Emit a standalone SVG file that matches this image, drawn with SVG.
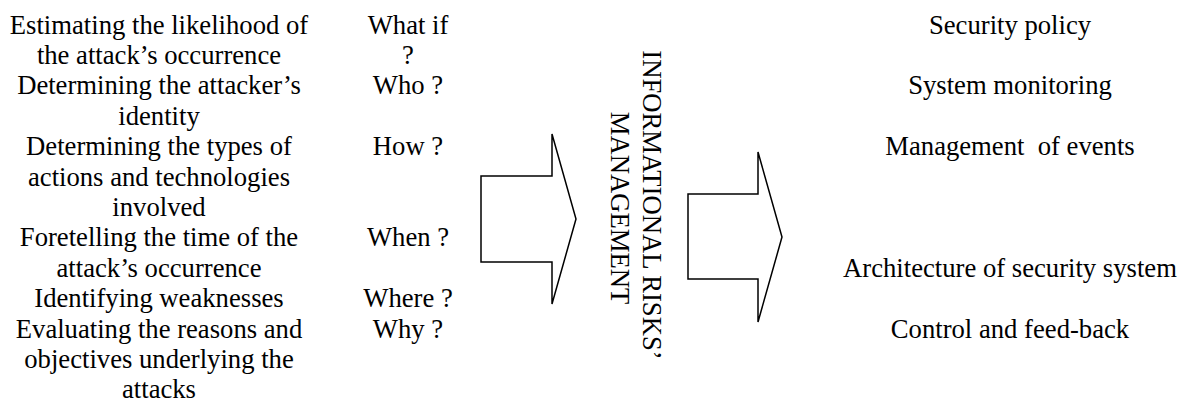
<svg xmlns="http://www.w3.org/2000/svg" width="1185" height="403" viewBox="0 0 1185 403">
<style>
text{font-family:"Liberation Serif","Times New Roman",serif;font-size:26.67px;fill:#000;text-anchor:middle}
.arrow{fill:#fff;stroke:#000;stroke-width:1.5;stroke-linejoin:miter}
</style>
<rect width="1185" height="403" fill="#fff"/>
<g id="connectors">
<polygon class="arrow" points="481,176 552,176 552,134 576,219 552,304 552,262 481,262"/>
<polygon class="arrow" points="688,194 758,194 758,152 782,237 758,322 758,279 688,279"/>
</g>
<g id="task-likelihood">
<text x="159" y="33.5">Estimating the likelihood of</text>
<text x="159" y="63.9">the attack’s occurrence</text>
</g>
<g id="task-identity">
<text x="159" y="94.3">Determining the attacker’s</text>
<text x="159" y="124.7">identity</text>
</g>
<g id="task-types">
<text x="159" y="155.1">Determining the types of</text>
<text x="159" y="185.5">actions and technologies</text>
<text x="159" y="215.9">involved</text>
</g>
<g id="task-time">
<text x="159" y="246.3">Foretelling the time of the</text>
<text x="159" y="276.7">attack’s occurrence</text>
</g>
<g id="task-weak">
<text x="159" y="307.1">Identifying weaknesses</text>
</g>
<g id="task-reasons">
<text x="159" y="337.5">Evaluating the reasons and</text>
<text x="159" y="367.9">objectives underlying the</text>
<text x="159" y="398">attacks</text>
</g>
<g id="q-whatif">
<text x="408" y="33.5">What if</text>
<text x="408" y="63.9">?</text>
</g>
<g id="q-who"><text x="408" y="94.3">Who ?</text></g>
<g id="q-how"><text x="408" y="155.1">How ?</text></g>
<g id="q-when"><text x="408" y="246.3">When ?</text></g>
<g id="q-where"><text x="408" y="307.1">Where ?</text></g>
<g id="q-why"><text x="408" y="337.5">Why ?</text></g>
<g id="center-label">
<text transform="translate(643,205) rotate(90)">INFORMATIONAL RISKS’</text>
<text transform="translate(611,208) rotate(90)">MANAGEMENT</text>
</g>
<g id="out-policy"><text x="1010" y="33.5">Security policy</text></g>
<g id="out-monitoring"><text x="1010" y="94.3">System monitoring</text></g>
<g id="out-events"><text x="1010" y="155.1" xml:space="preserve">Management  of events</text></g>
<g id="out-architecture"><text x="1010" y="276.7">Architecture of security system</text></g>
<g id="out-control"><text x="1010" y="337.5">Control and feed-back</text></g>
</svg>
